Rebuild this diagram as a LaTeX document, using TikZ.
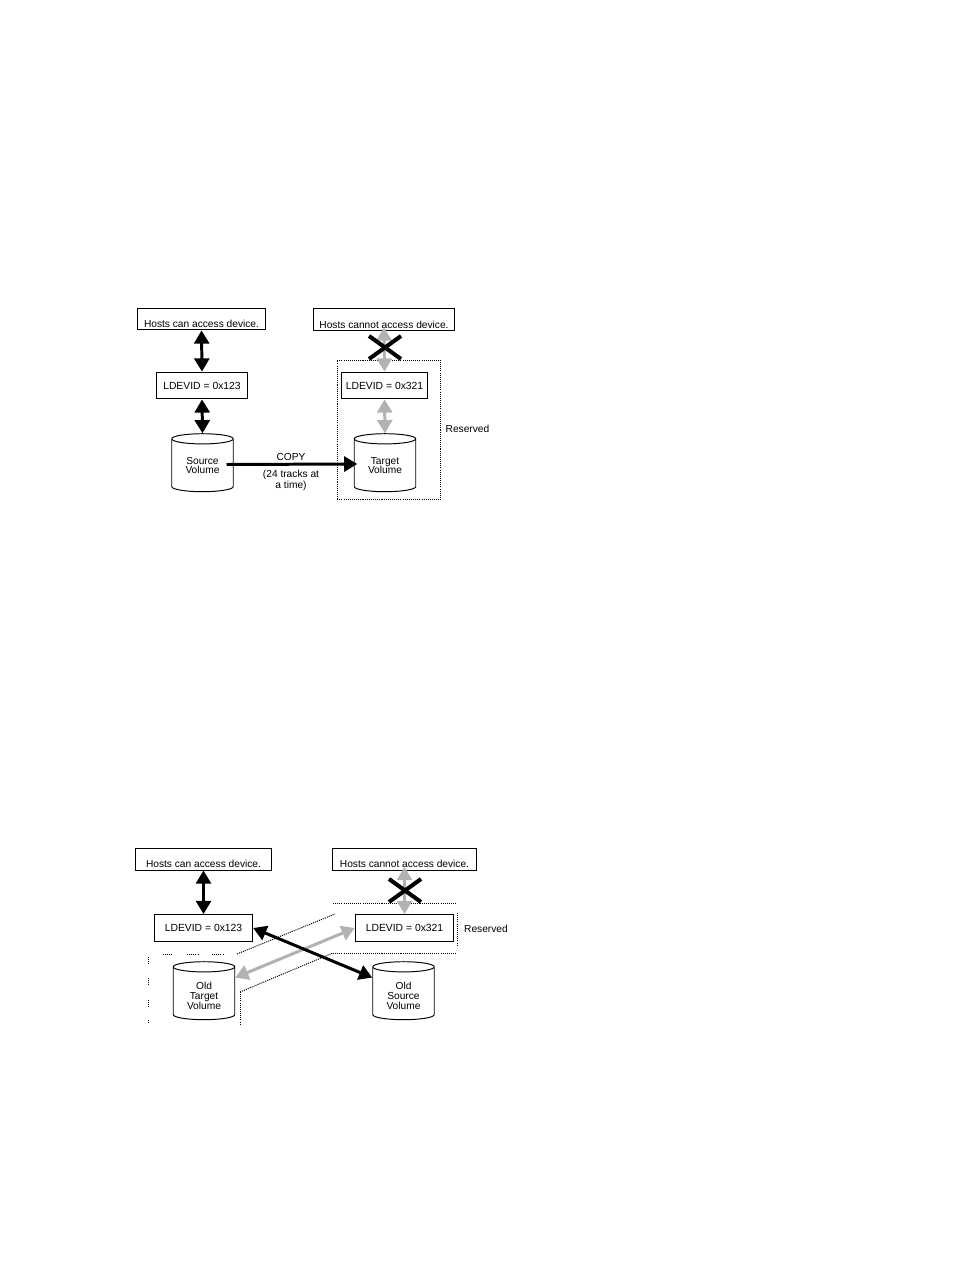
\documentclass[tikz,border=0pt]{standalone}
\usepackage{fontspec}
\setmainfont{Liberation Sans}
\definecolor{ACCgray}{HTML}{B2B2B2}
\usetikzlibrary{arrows.meta,shapes.geometric}
\newcommand{\voltop}{\rule{0pt}{7pt}}
\tikzset{
  hostbox/.style={draw,line width=0.55pt,inner sep=0pt,minimum height=12.5pt,text height=10.7pt,text depth=1pt,font=\fontsize{5.8}{7}\selectfont},
  ldevbox/.style={draw,line width=0.55pt,inner sep=0pt,minimum height=15.3pt,font=\fontsize{5.9}{7}\selectfont},
  volume/.style={draw,line width=0.55pt,cylinder,shape border rotate=90,shape aspect=0.3,inner sep=0pt,minimum width=35pt,minimum height=33pt,align=center,font=\fontsize{5.8}{6.2}\selectfont},
  plainlabel/.style={inner sep=0pt,align=center,font=\fontsize{5.8}{6.2}\selectfont},
  blackarrow/.style={line width=1.7pt,{Triangle[length=7.5pt,width=8.5pt]}-{Triangle[length=7.5pt,width=8.5pt]}},
  grayarrow/.style={blackarrow,ACCgray},
  reserved/.style={dash pattern=on 0.6pt off 0.6pt,line width=0.55pt},
  crossmark/.style={line width=2.3pt}
}
\begin{document}
\begin{tikzpicture}[x=0.02cm,y=-0.02cm]
  \useasboundingbox (0,0) rectangle (954,1270);
  % upper diagram
  \node[reserved,draw,inner sep=0pt,minimum width=59pt,minimum height=79.4pt] (resbox) at (389,430) {};
  \node[hostbox,minimum width=72.6pt] (hostsA) at (201.5,319) {Hosts can access device.};
  \node[hostbox,minimum width=80.5pt] (hostsB) at (384,319.5) {Hosts cannot access device.};
  \node[ldevbox,minimum width=52pt] (ldevA) at (202,385.5) {LDEVID = 0x123};
  \node[ldevbox,minimum width=49pt] (ldevB) at (384.5,385.5) {LDEVID = 0x321};
  \node[volume] (source) at (202.5,465.5) {Source\\[-0.7pt]Volume};
  \node[volume] (target) at (385,465.5) {Target\\[-0.7pt]Volume};
  \node[plainlabel] (resA) at (467.5,429) {Reserved};
  \node[plainlabel] (copy) at (291,457) {COPY};
  \node[plainlabel] (tracks) at (291,480) {(24 tracks at\\a time)};
  \draw[blackarrow] (hostsA.south) -- (ldevA.north);
  \draw[blackarrow] (ldevA.south) -- (source.north);
  \draw[grayarrow,shorten <=-2pt] (hostsB.south) -- (ldevB.north);
  \draw[grayarrow] (ldevB.south) -- (target.north);
  \draw[line width=1.7pt,-{Triangle[length=7.5pt,width=8.5pt]},shorten >=-2pt] (source.center) ++(24,-1) -- (target.west |- 0,464);
  \draw[crossmark] (369,336) -- (401,359);
  \draw[crossmark] (369,359) -- (401,336);
  % lower diagram
  \draw[reserved] (333,903) -- (457,903);
  \draw[reserved] (333,953) -- (457,953);
  \draw[reserved] (457,913) -- (457,945);
  \draw[reserved] (237,954) -- (335,914);
  \draw[reserved] (240,992) -- (333,953);
  \draw[reserved] (240,992) -- (240,1025);
  \foreach \p/\q in {163/172,187/198,212/223}
    \draw[reserved] (\p,954) -- (\q,954);
  \foreach \p/\q in {957/965,978/985,1000/1007,1020/1023}
    \draw[reserved] (148,\p) -- (148,\q);
  \node[hostbox,minimum width=77.6pt] (hostsC) at (203.5,859) {Hosts can access device.};
  \node[hostbox,minimum width=82.2pt] (hostsD) at (404.5,859) {Hosts cannot access device.};
  \node[ldevbox,minimum width=56pt] (ldevC) at (203.5,928) {LDEVID = 0x123};
  \node[ldevbox,minimum width=56pt] (ldevD) at (404.5,928) {LDEVID = 0x321};
  \node[volume] (oldtarget) at (204,993.5) {\voltop Old\\[-0.7pt]Target\\[-0.7pt]Volume};
  \node[volume] (oldsource) at (403.5,993.5) {\voltop Old\\[-0.7pt]Source\\[-0.7pt]Volume};
  \node[plainlabel] (resB) at (486,929) {Reserved};
  \draw[blackarrow] (hostsC.south) -- (ldevC.north);
  \draw[grayarrow,shorten <=-2pt] (hostsD.south) -- (ldevD.north);
  \draw[grayarrow] (oldtarget.27) -- (ldevD.west);
  \draw[blackarrow] (ldevC.east) -- (oldsource.153);
  \draw[crossmark] (389,879) -- (421,902);
  \draw[crossmark] (389,902) -- (421,879);
\end{tikzpicture}
\end{document}
